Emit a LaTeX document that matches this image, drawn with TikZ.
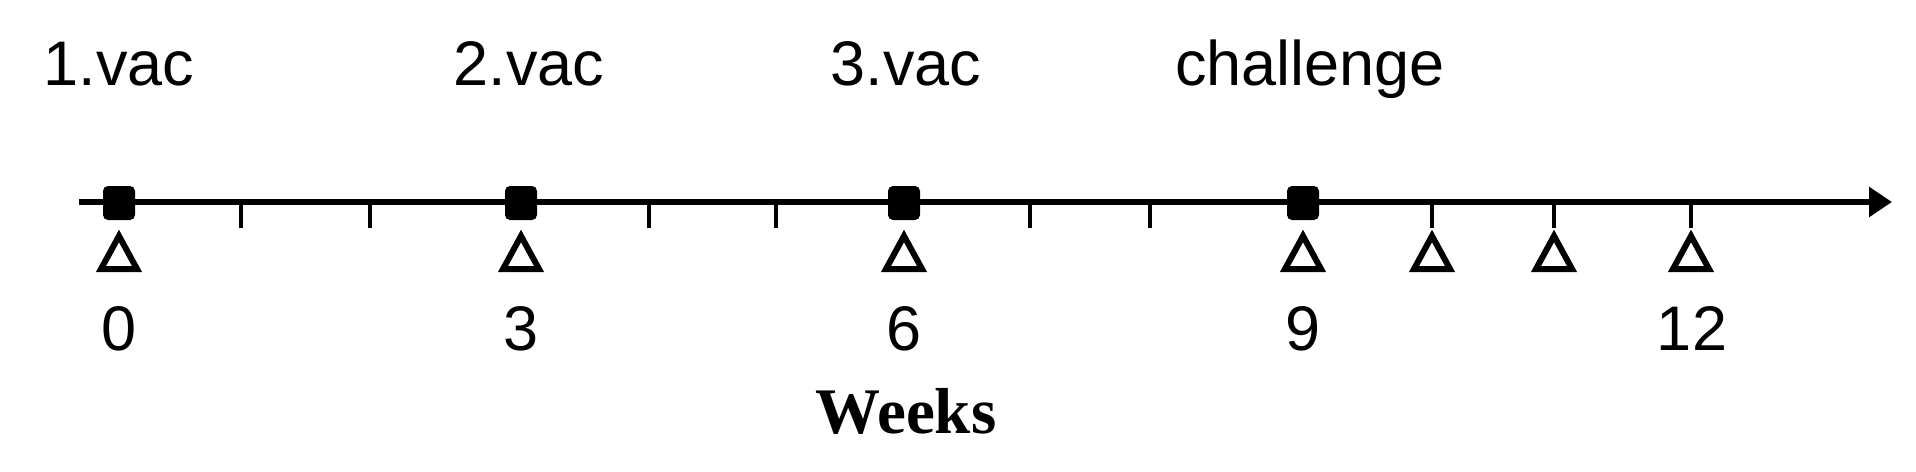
\documentclass[tikz,border=0pt]{standalone}
\usepackage{fontspec}
\setmainfont{Liberation Sans}
\newfontfamily\weeksfont{Liberation Serif}
\usetikzlibrary{arrows.meta}
\begin{document}
\begin{tikzpicture}[x=0.5pt,y=-0.5pt,
  lbl/.style={anchor=base,inner sep=0pt,font=\fontsize{31.5}{36}\selectfont},
  dose/.style={draw=none,fill=black,rounded corners=2.5pt,minimum width=16pt,minimum height=17pt,inner sep=0pt},
  sample/.style={line width=3pt,line join=miter},
  tickmark/.style={line width=2pt},
  axis/.style={line width=3pt,-{Triangle[length=11.5pt,width=14.5pt]}}]
\useasboundingbox (0,0) rectangle (1916,471);
\coordinate (start) at (79,202);
\coordinate (end) at (1892,202);
\draw[axis] (start) -- (end);
% ticks
\foreach \x in {241,370,649,776,1030,1150,1432,1554,1691}{
  \draw[tickmark] (\x,202) -- (\x,228);
}
% dose squares
\node[dose] (d0) at (119,203) {};
\node[dose] (d3) at (521,203) {};
\node[dose] (d6) at (904,203) {};
\node[dose] (d9) at (1303,203) {};
% sampling triangles
\foreach \x in {119,521,904,1303,1432,1554,1691}{
  \draw[sample] (\x,236) -- (\x+18,269) -- (\x-18,269) -- cycle;
}
% top labels
\node[lbl] (l1) at (119,85) {1.vac};
\node[lbl] (l2) at (529,85) {2.vac};
\node[lbl] (l3) at (906,85) {3.vac};
\node[lbl] (l4) at (1310,85) {challenge};
% numbers
\node[lbl] (n0) at (119,350) {0};
\node[lbl] (n3) at (521,350) {3};
\node[lbl] (n6) at (904,350) {6};
\node[lbl] (n9) at (1303,350) {9};
\node[lbl] (n12) at (1692,350) {12};
% axis title
\node[anchor=base,inner sep=0pt,font=\weeksfont\bfseries\fontsize{32.5}{38}\selectfont] (weeks) at (906,433) {Weeks};
\end{tikzpicture}
\end{document}
